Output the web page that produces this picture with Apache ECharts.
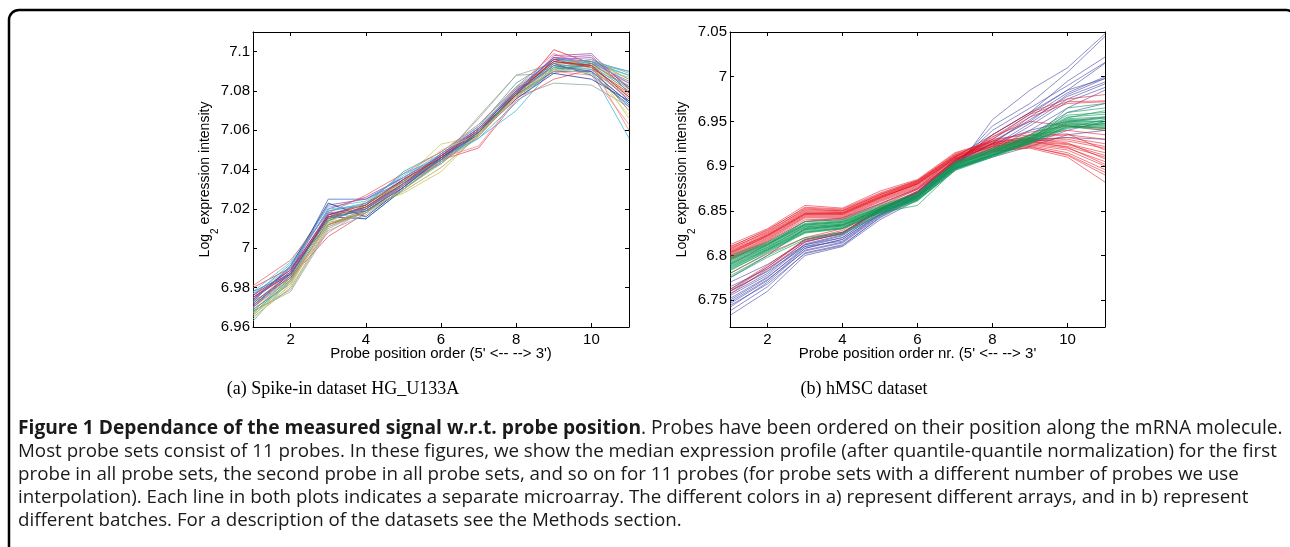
<!DOCTYPE html>
<html>
<head>
<meta charset="utf-8">
<script src="https://cdn.jsdelivr.net/npm/echarts@6/dist/echarts.min.js"></script>
<style>
  html, body { margin: 0; padding: 0; background: #fff; }
  #chart { width: 1290px; height: 547px; }
</style>
</head>
<body>
<div id="chart"></div>
<script>
// ---------------- DATA ----------------
const probePositions = [1, 2, 3, 4, 5, 6, 7, 8, 9, 10, 11];
const xTickValues = [2, 4, 6, 8, 10];
const spikeYTicks = [6.96, 6.98, 7, 7.02, 7.04, 7.06, 7.08, 7.1];
const hmscYTicks = [6.75, 6.8, 6.85, 6.9, 6.95, 7, 7.05];

// (a) Spike-in dataset HG_U133A: one profile per microarray
const spikeInArrays = [
  [6.980, 6.990, 7.012, 7.018, 7.033, 7.046, 7.058, 7.078, 7.101, 7.094, 7.082],
  [6.975, 6.988, 7.025, 7.025, 7.036, 7.047, 7.060, 7.080, 7.097, 7.093, 7.075],
  [6.963, 6.984, 7.018, 7.015, 7.030, 7.044, 7.056, 7.070, 7.092, 7.090, 7.056],
  [6.968, 6.979, 7.010, 7.019, 7.032, 7.046, 7.066, 7.088, 7.089, 7.094, 7.090],
  [6.970, 6.985, 7.012, 7.020, 7.032, 7.044, 7.058, 7.077, 7.084, 7.083, 7.072],
  [6.966, 6.981, 7.014, 7.021, 7.028, 7.039, 7.058, 7.080, 7.092, 7.094, 7.066],
  [6.969, 6.983, 7.013, 7.022, 7.035, 7.053, 7.057, 7.079, 7.094, 7.095, 7.086],
  [6.974, 6.990, 7.022, 7.025, 7.034, 7.048, 7.061, 7.079, 7.097, 7.098, 7.079],
  [6.971, 6.987, 7.016, 7.015, 7.030, 7.044, 7.060, 7.078, 7.090, 7.090, 7.074],
  [6.967, 6.984, 7.012, 7.019, 7.031, 7.045, 7.059, 7.077, 7.091, 7.093, 7.080],
  [6.977, 6.986, 7.008, 7.020, 7.035, 7.046, 7.052, 7.076, 7.090, 7.088, 7.063],
  [6.973, 6.985, 7.006, 7.018, 7.032, 7.045, 7.051, 7.075, 7.086, 7.091, 7.076],
  [6.972, 6.988, 7.016, 7.023, 7.034, 7.047, 7.061, 7.081, 7.095, 7.093, 7.084],
  [6.976, 6.992, 7.019, 7.022, 7.039, 7.049, 7.062, 7.084, 7.096, 7.095, 7.088],
  [6.970, 6.986, 7.017, 7.020, 7.033, 7.043, 7.059, 7.079, 7.093, 7.089, 7.072],
  [6.978, 6.993, 7.021, 7.024, 7.037, 7.048, 7.062, 7.082, 7.096, 7.094, 7.088],
  [6.965, 6.980, 7.011, 7.019, 7.029, 7.041, 7.057, 7.078, 7.093, 7.096, 7.086],
  [6.968, 6.978, 7.009, 7.017, 7.030, 7.045, 7.067, 7.088, 7.094, 7.096, 7.089],
  [6.975, 6.989, 7.020, 7.026, 7.036, 7.047, 7.060, 7.078, 7.098, 7.099, 7.081],
  [6.973, 6.991, 7.023, 7.016, 7.031, 7.046, 7.058, 7.076, 7.089, 7.086, 7.075],
  [6.981, 6.994, 7.018, 7.027, 7.038, 7.049, 7.063, 7.082, 7.099, 7.092, 7.078],
  [6.969, 6.982, 7.014, 7.021, 7.033, 7.045, 7.058, 7.077, 7.090, 7.094, 7.085],
  [6.966, 6.983, 7.013, 7.018, 7.030, 7.043, 7.058, 7.079, 7.092, 7.091, 7.077],
  [6.971, 6.986, 7.015, 7.021, 7.034, 7.046, 7.060, 7.080, 7.095, 7.092, 7.070],
  [6.974, 6.988, 7.017, 7.023, 7.035, 7.047, 7.061, 7.081, 7.096, 7.097, 7.082],
  [6.977, 6.990, 7.020, 7.022, 7.036, 7.048, 7.059, 7.079, 7.094, 7.091, 7.083],
  [6.970, 6.984, 7.012, 7.020, 7.032, 7.044, 7.057, 7.077, 7.093, 7.093, 7.060],
  [6.972, 6.987, 7.016, 7.019, 7.031, 7.046, 7.060, 7.080, 7.094, 7.088, 7.073],
  [6.968, 6.985, 7.014, 7.022, 7.034, 7.045, 7.059, 7.078, 7.091, 7.094, 7.081],
  [6.975, 6.987, 7.016, 7.021, 7.033, 7.047, 7.060, 7.078, 7.096, 7.092, 7.079],
  [6.973, 6.991, 7.019, 7.023, 7.038, 7.046, 7.056, 7.074, 7.092, 7.095, 7.090],
  [6.970, 6.988, 7.018, 7.020, 7.032, 7.048, 7.061, 7.080, 7.097, 7.095, 7.084],
  [6.967, 6.983, 7.011, 7.018, 7.030, 7.044, 7.060, 7.082, 7.090, 7.092, 7.087],
  [6.964, 6.982, 7.013, 7.024, 7.033, 7.050, 7.058, 7.077, 7.091, 7.089, 7.068],
  [6.976, 6.989, 7.017, 7.022, 7.035, 7.046, 7.059, 7.079, 7.095, 7.093, 7.077],
  [6.978, 6.987, 7.015, 7.020, 7.033, 7.045, 7.059, 7.079, 7.093, 7.090, 7.074]
];

// (b) hMSC dataset, one list per batch
const hmscBatchBlue = [
  [6.733, 6.760, 6.800, 6.810, 6.840, 6.862, 6.895, 6.952, 6.985, 7.010, 7.048],
  [6.738, 6.765, 6.803, 6.812, 6.842, 6.864, 6.900, 6.945, 6.970, 7.005, 7.045],
  [6.742, 6.770, 6.806, 6.815, 6.845, 6.866, 6.902, 6.935, 6.960, 6.995, 7.022],
  [6.746, 6.772, 6.808, 6.818, 6.846, 6.867, 6.905, 6.930, 6.958, 6.985, 7.015],
  [6.750, 6.775, 6.810, 6.820, 6.848, 6.868, 6.904, 6.925, 6.955, 6.982, 7.000],
  [6.755, 6.778, 6.812, 6.822, 6.850, 6.870, 6.906, 6.928, 6.950, 6.980, 6.998],
  [6.757, 6.780, 6.813, 6.823, 6.851, 6.871, 6.908, 6.922, 6.948, 6.975, 6.992],
  [6.760, 6.783, 6.815, 6.825, 6.852, 6.872, 6.903, 6.920, 6.945, 6.972, 6.988],
  [6.765, 6.785, 6.812, 6.820, 6.849, 6.869, 6.900, 6.918, 6.940, 6.965, 6.985],
  [6.770, 6.790, 6.816, 6.824, 6.852, 6.870, 6.902, 6.915, 6.935, 6.960, 6.970],
  [6.752, 6.776, 6.808, 6.818, 6.847, 6.867, 6.898, 6.912, 6.925, 6.940, 6.950],
  [6.748, 6.773, 6.805, 6.814, 6.844, 6.866, 6.897, 6.910, 6.922, 6.935, 6.940],
  [6.760, 6.782, 6.810, 6.816, 6.846, 6.867, 6.899, 6.913, 6.928, 6.932, 6.930],
  [6.775, 6.800, 6.830, 6.834, 6.852, 6.871, 6.905, 6.925, 6.940, 6.950, 6.955],
  [6.790, 6.812, 6.838, 6.842, 6.858, 6.875, 6.910, 6.935, 6.960, 6.985, 6.998],
  [6.762, 6.787, 6.818, 6.826, 6.851, 6.870, 6.903, 6.926, 6.952, 6.978, 6.994],
  [6.744, 6.768, 6.802, 6.811, 6.843, 6.865, 6.901, 6.940, 6.965, 6.990, 7.016]
];
const hmscBatchRed = [
  [6.812, 6.830, 6.856, 6.853, 6.872, 6.885, 6.915, 6.928, 6.932, 6.935, 6.930],
  [6.810, 6.828, 6.854, 6.852, 6.870, 6.884, 6.914, 6.927, 6.930, 6.932, 6.925],
  [6.808, 6.826, 6.852, 6.850, 6.868, 6.883, 6.913, 6.926, 6.931, 6.930, 6.922],
  [6.806, 6.825, 6.850, 6.849, 6.867, 6.882, 6.912, 6.925, 6.929, 6.928, 6.920],
  [6.805, 6.823, 6.848, 6.848, 6.866, 6.881, 6.911, 6.924, 6.928, 6.925, 6.915],
  [6.803, 6.822, 6.847, 6.847, 6.865, 6.880, 6.910, 6.923, 6.927, 6.924, 6.912],
  [6.802, 6.821, 6.846, 6.846, 6.864, 6.880, 6.909, 6.922, 6.926, 6.922, 6.910],
  [6.800, 6.820, 6.845, 6.845, 6.863, 6.879, 6.908, 6.921, 6.925, 6.920, 6.905],
  [6.799, 6.819, 6.844, 6.844, 6.862, 6.878, 6.907, 6.920, 6.924, 6.918, 6.900],
  [6.798, 6.818, 6.843, 6.843, 6.861, 6.877, 6.906, 6.919, 6.923, 6.915, 6.896],
  [6.797, 6.817, 6.842, 6.842, 6.860, 6.876, 6.905, 6.918, 6.922, 6.912, 6.890],
  [6.796, 6.816, 6.840, 6.841, 6.858, 6.875, 6.904, 6.917, 6.920, 6.910, 6.882],
  [6.809, 6.829, 6.853, 6.851, 6.869, 6.884, 6.912, 6.930, 6.935, 6.940, 6.935],
  [6.804, 6.824, 6.849, 6.848, 6.866, 6.882, 6.910, 6.928, 6.938, 6.945, 6.942],
  [6.801, 6.822, 6.846, 6.847, 6.865, 6.880, 6.908, 6.925, 6.934, 6.936, 6.918],
  [6.807, 6.827, 6.851, 6.850, 6.868, 6.883, 6.911, 6.924, 6.930, 6.926, 6.908],
  [6.795, 6.815, 6.838, 6.840, 6.857, 6.874, 6.903, 6.916, 6.921, 6.913, 6.893],
  [6.803, 6.823, 6.847, 6.846, 6.864, 6.881, 6.909, 6.922, 6.928, 6.921, 6.902],
  [6.757, 6.785, 6.815, 6.825, 6.850, 6.870, 6.905, 6.935, 6.960, 6.975, 6.980],
  [6.760, 6.787, 6.817, 6.826, 6.851, 6.871, 6.906, 6.932, 6.958, 6.972, 6.973],
  [6.762, 6.789, 6.818, 6.828, 6.853, 6.872, 6.907, 6.930, 6.955, 6.970, 6.972],
  [6.780, 6.802, 6.820, 6.830, 6.855, 6.874, 6.906, 6.933, 6.950, 6.945, 6.940]
];
const hmscBatchGreen = [
  [6.800, 6.815, 6.838, 6.840, 6.856, 6.870, 6.905, 6.920, 6.935, 6.957, 6.960],
  [6.798, 6.814, 6.836, 6.839, 6.855, 6.869, 6.904, 6.919, 6.934, 6.955, 6.958],
  [6.796, 6.813, 6.835, 6.838, 6.854, 6.868, 6.903, 6.918, 6.933, 6.953, 6.955],
  [6.795, 6.812, 6.834, 6.837, 6.853, 6.868, 6.902, 6.917, 6.932, 6.952, 6.953],
  [6.793, 6.811, 6.833, 6.836, 6.852, 6.867, 6.901, 6.916, 6.931, 6.950, 6.950],
  [6.792, 6.810, 6.832, 6.835, 6.852, 6.866, 6.900, 6.915, 6.930, 6.949, 6.948],
  [6.790, 6.809, 6.831, 6.834, 6.851, 6.866, 6.900, 6.915, 6.930, 6.948, 6.946],
  [6.789, 6.808, 6.830, 6.834, 6.850, 6.865, 6.899, 6.914, 6.929, 6.947, 6.945],
  [6.788, 6.807, 6.829, 6.833, 6.850, 6.864, 6.898, 6.913, 6.928, 6.946, 6.943],
  [6.786, 6.806, 6.828, 6.832, 6.849, 6.864, 6.898, 6.913, 6.927, 6.945, 6.942],
  [6.785, 6.806, 6.827, 6.831, 6.849, 6.863, 6.897, 6.912, 6.927, 6.944, 6.940],
  [6.783, 6.805, 6.826, 6.830, 6.848, 6.856, 6.896, 6.911, 6.926, 6.942, 6.948],
  [6.780, 6.803, 6.825, 6.830, 6.848, 6.862, 6.896, 6.911, 6.926, 6.943, 6.952],
  [6.777, 6.800, 6.820, 6.826, 6.846, 6.862, 6.897, 6.912, 6.928, 6.965, 6.970],
  [6.775, 6.798, 6.818, 6.824, 6.845, 6.861, 6.895, 6.910, 6.925, 6.960, 6.965],
  [6.797, 6.813, 6.835, 6.838, 6.854, 6.868, 6.903, 6.918, 6.932, 6.951, 6.950],
  [6.791, 6.809, 6.832, 6.835, 6.852, 6.866, 6.901, 6.916, 6.931, 6.949, 6.954],
  [6.787, 6.807, 6.829, 6.833, 6.850, 6.865, 6.899, 6.914, 6.929, 6.947, 6.947],
  [6.794, 6.812, 6.834, 6.837, 6.853, 6.867, 6.902, 6.917, 6.932, 6.954, 6.962],
  [6.784, 6.804, 6.826, 6.831, 6.848, 6.863, 6.897, 6.912, 6.927, 6.944, 6.944]
];

const subcaptionA = '(a) Spike-in dataset HG_U133A';
const subcaptionB = '(b) hMSC dataset';
const captionBold = 'Figure 1 Dependance of the measured signal w.r.t. probe position';
const captionLines = [
  '. Probes have been ordered on their position along the mRNA molecule.',
  'Most probe sets consist of 11 probes. In these figures, we show the median expression profile (after quantile-quantile normalization) for the first',
  'probe in all probe sets, the second probe in all probe sets, and so on for 11 probes (for probe sets with a different number of probes we use',
  'interpolation). Each line in both plots indicates a separate microarray. The different colors in a) represent different arrays, and in b) represent',
  'different batches. For a description of the datasets see the Methods section.'
];

// ---------------- STYLE ----------------
const spikePalette = ['#ee2a36', '#2f6fc4', '#33b6e0', '#9a9a9a', '#86a898', '#c8c050',
  '#d0c860', '#8a52b4', '#22409a', '#3a9a50', '#f07f90', '#e65060', '#e09030', '#3aa0a0',
  '#3a7fd0', '#45c0e8', '#a8a040', '#90a89a', '#b040a0', '#26308a', '#f06060', '#5a80b0',
  '#90b050', '#a06040', '#7a50c0', '#60b8e8', '#f08070', '#3060b0', '#40a060', '#d02030',
  '#30b0d0', '#9060c0', '#a0b0a8', '#d8d070', '#b02040', '#4070c0'];

const sansFamily = '"Liberation Sans", Arial, Helvetica, sans-serif';
const axisFont = { fontFamily: sansFamily, fontSize: 15, color: '#000' };

function fmtTick(v) { return String(parseFloat(v.toFixed(2))); }

function lineSeries(values, color, xi, yi, opacity) {
  return {
    type: 'line', xAxisIndex: xi, yAxisIndex: yi,
    data: probePositions.map((p, i) => [p, values[i]]),
    showSymbol: false, symbol: 'none', silent: true, animation: false,
    lineStyle: { width: 1, color: color, opacity: opacity },
    z: 2
  };
}

function xAxes(gridIndex, name) {
  return [
    {
      type: 'value', gridIndex, position: 'bottom', min: 1, max: 11,
      name, nameLocation: 'middle', nameGap: 19, nameMoveOverlap: false,
      nameTextStyle: { fontFamily: sansFamily, fontSize: 15, color: '#000' },
      axisLine: { show: true, lineStyle: { color: '#000', width: 1 } },
      axisTick: { show: true, inside: true, length: 4, customValues: xTickValues, lineStyle: { color: '#000' } },
      axisLabel: Object.assign({ show: true, margin: 5, customValues: xTickValues, formatter: fmtTick }, axisFont),
      splitLine: { show: false }
    },
    {
      type: 'value', gridIndex, position: 'top', min: 1, max: 11,
      axisLine: { show: true, lineStyle: { color: '#000', width: 1 } },
      axisTick: { show: true, inside: true, length: 4, customValues: xTickValues, lineStyle: { color: '#000' } },
      axisLabel: { show: false },
      splitLine: { show: false }
    }
  ];
}

function yAxes(gridIndex, min, max, ticks, gap) {
  return [
    {
      type: 'value', gridIndex, position: 'left', min, max,
      name: '{m|Log}{s|2}{m| expression intensity}', nameLocation: 'middle', nameGap: gap, nameRotate: 90,
      nameMoveOverlap: false,
      nameTextStyle: {
        rich: {
          m: { fontFamily: sansFamily, fontSize: 14, color: '#000', lineHeight: 18, verticalAlign: 'middle' },
          s: { fontFamily: sansFamily, fontSize: 10, color: '#000', lineHeight: 18, verticalAlign: 'bottom', padding: [0, 0, -6, 0] }
        }
      },
      axisLine: { show: true, lineStyle: { color: '#000', width: 1 } },
      axisTick: { show: true, inside: true, length: 4, customValues: ticks, lineStyle: { color: '#000' } },
      axisLabel: Object.assign({ show: true, margin: 3, customValues: ticks, formatter: fmtTick }, axisFont),
      splitLine: { show: false }
    },
    {
      type: 'value', gridIndex, position: 'right', min, max,
      axisLine: { show: true, lineStyle: { color: '#000', width: 1 } },
      axisTick: { show: true, inside: true, length: 4, customValues: ticks, lineStyle: { color: '#000' } },
      axisLabel: { show: false },
      splitLine: { show: false }
    }
  ];
}

const series = [];
spikeInArrays.forEach((arr, i) => series.push(lineSeries(arr, spikePalette[i % spikePalette.length], 0, 0, 0.75)));
hmscBatchBlue.forEach(arr => series.push(lineSeries(arr, '#4646a8', 2, 2, 0.6)));
hmscBatchRed.forEach(arr => series.push(lineSeries(arr, '#e8101e', 2, 2, 0.55)));
hmscBatchGreen.forEach(arr => series.push(lineSeries(arr, '#0a9a52', 2, 2, 0.6)));

const captionFont = '"Open Sans", "Noto Sans", sans-serif';
const captionSize = 18.75;
const captionY0 = 429;
const captionStep = 22.8;
const captionGraphics = [
  {
    type: 'text', x: 18, y: captionY0, silent: true,
    style: {
      text: '{b|' + captionBold + '}{r|' + captionLines[0] + '}',
      verticalAlign: 'middle', align: 'left',
      rich: {
        b: { fontFamily: captionFont, fontSize: 19.2, fontWeight: 'bold', fill: '#1a1a1a' },
        r: { fontFamily: captionFont, fontSize: 19.2, fill: '#1a1a1a' }
      }
    }
  }
];
for (let i = 1; i < captionLines.length; i++) {
  captionGraphics.push({
    type: 'text', x: 18, y: captionY0 + i * captionStep, silent: true,
    style: { text: captionLines[i], fontFamily: captionFont, fontSize: captionSize, fill: '#1a1a1a', verticalAlign: 'middle', align: 'left' }
  });
}

const option = {
  backgroundColor: '#fff',
  animation: false,
  grid: [
    { left: 253, top: 32, width: 376, height: 295, containLabel: false },
    { left: 730, top: 32, width: 375, height: 295, containLabel: false }
  ],
  xAxis: [].concat(
    xAxes(0, "Probe position order (5' <-- --> 3')"),
    xAxes(1, "Probe position order nr. (5' <-- --> 3'")
  ),
  yAxis: [].concat(
    yAxes(0, 6.96, 7.11, spikeYTicks, 39),
    yAxes(1, 6.72, 7.05, hmscYTicks, 39)
  ),
  series,
  graphic: [
    {
      type: 'rect', silent: true, z: 0,
      shape: { x: 9, y: 10, width: 1287, height: 600, r: 10 },
      style: { fill: 'none', stroke: '#000', lineWidth: 2.5 }
    },
    {
      type: 'text', silent: true, x: 343, y: 389,
      style: { text: subcaptionA, fontFamily: '"Liberation Serif", serif', fontSize: 18, fill: '#000', align: 'center', verticalAlign: 'middle' }
    },
    {
      type: 'text', silent: true, x: 864, y: 389,
      style: { text: subcaptionB, fontFamily: '"Liberation Serif", serif', fontSize: 18, fill: '#000', align: 'center', verticalAlign: 'middle' }
    }
  ].concat(captionGraphics)
};

const chart = echarts.init(document.getElementById('chart'), null, { renderer: 'canvas' });
chart.setOption(option);
</script>
</body>
</html>
